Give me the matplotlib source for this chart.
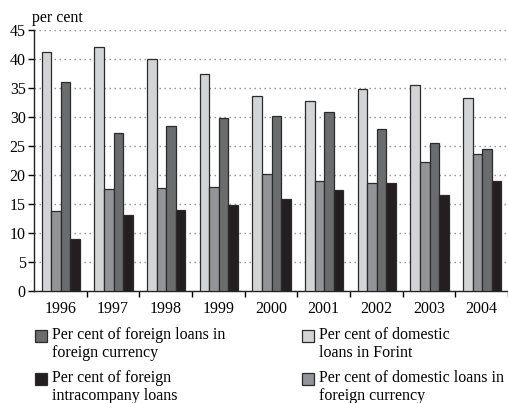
import numpy as np
import matplotlib
matplotlib.use("Agg")
import matplotlib.pyplot as plt
from matplotlib.patches import Rectangle

plt.rcParams['font.family'] = ['Liberation Serif', 'DejaVu Serif']

years = ['1996', '1997', '1998', '1999', '2000', '2001', '2002', '2003', '2004']
dom_forint = [41.2, 42.0, 40.0, 37.4, 33.7, 32.7, 34.9, 35.5, 33.2]
dom_fx = [13.8, 17.6, 17.7, 18.0, 20.2, 18.9, 18.6, 22.3, 23.6]
for_fx = [36.1, 27.3, 28.4, 29.8, 30.2, 30.9, 27.9, 25.6, 24.5]
for_intra = [9.0, 13.1, 14.0, 14.8, 15.9, 17.5, 18.6, 16.6, 18.9]

labels = ['Per cent of domestic\nloans in Forint',
          'Per cent of domestic loans in\nforeign currency',
          'Per cent of foreign loans in\nforeign currency',
          'Per cent of foreign\nintracompany loans']
colors = ['#d3d4d6', '#939497', '#6b6c6e', '#231f20']
series = [dom_forint, dom_fx, for_fx, for_intra]

W, H = 508, 403
fig = plt.figure(figsize=(W / 100, H / 100), dpi=100)
ax = fig.add_axes([34 / W, (H - 291) / H, (W - 34) / W, (291 - 30) / H])

x = np.arange(len(years))
bw = 0.183
for i, (vals, c) in enumerate(zip(series, colors)):
    ax.bar(x + (i - 1.5) * bw + 0.01, vals, bw, color=c, edgecolor='#2b2b2b',
           linewidth=0.9, zorder=3)

ax.set_ylim(0, 45)
ax.set_yticks(np.arange(0, 46, 5))
ax.set_xlim(-0.5, (W - 34) / 53.75 - 0.5)
ax.set_xticks(np.arange(0.5, len(years), 1.0))
ax.set_xticklabels([])
ax.set_xticks(x, minor=True)
ax.set_xticklabels(years, minor=True)
ax.tick_params(axis='x', which='major', length=4, width=1, direction='out')
ax.tick_params(axis='x', which='minor', length=0, pad=7, labelsize=11.5)
ax.tick_params(axis='y', length=4, width=1, direction='out', pad=2, labelsize=11.5)
ax.grid(axis='y', linestyle=(0, (1, 2.6)), color='#8a8a8a', linewidth=1.0, zorder=0)
for s in ['top', 'right']:
    ax.spines[s].set_visible(False)
for s in ['left', 'bottom']:
    ax.spines[s].set_linewidth(1.0)
    ax.spines[s].set_color('#222222')

fig.text(32 / W, 1 - 18 / H, 'per cent', fontsize=11.5, va='center', ha='left')

# legend, two columns, square next to first line of each entry
entries = [(2, 35, 336), (3, 35, 379), (0, 302, 336), (1, 302, 379)]
for idx, px, py in entries:
    fig.add_artist(Rectangle((px / W, 1 - (py + 6) / H), 12 / W, 12 / H,
                             facecolor=colors[idx], edgecolor='#2b2b2b',
                             linewidth=0.9, transform=fig.transFigure))
    fig.text((px + 17) / W, 1 - (py - 9) / H, labels[idx], fontsize=11.5,
             va='top', ha='left', linespacing=1.2)

fig.savefig('out.png', dpi=100)
